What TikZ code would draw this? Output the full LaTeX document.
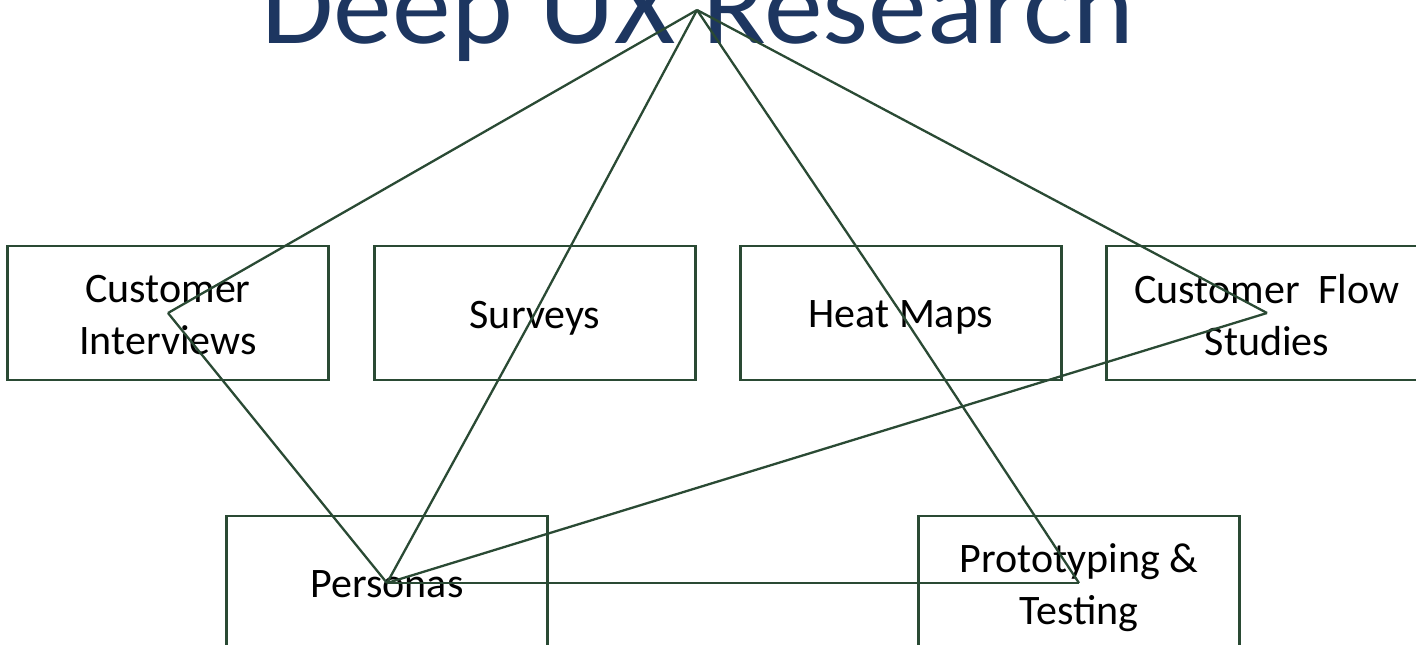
\documentclass[tikz,border=0pt]{standalone}
\usepackage{fontspec}
\newfontfamily\titlefont[FakeStretch=1.05]{Carlito}
\newfontfamily\bodyfont{Carlito}
\definecolor{titleblue}{RGB}{29,54,96}
\definecolor{linkgreen}{RGB}{42,74,52}
\begin{document}
\begin{tikzpicture}[x=1pt,y=-1pt,
  stage/.style={draw=linkgreen, line width=2.6pt, minimum width=321pt,
    minimum height=134pt, inner sep=0pt},
  lbl/.style={font=\bodyfont\fontsize{42}{52}\selectfont, align=center,
    inner sep=0pt, text depth=0pt, yshift=-1.5pt},
  link/.style={draw=linkgreen, line width=2.3pt}]
\useasboundingbox (0,0) rectangle (1416,645);

% title
\node[font=\titlefont\fontsize{112}{130}\selectfont, text=titleblue,
  anchor=base, inner sep=0pt] (title) at (698,43) {Deep UX Research};
\coordinate (apex) at (697,10);

% research methods
\node[stage] (ci) at (168,313) {};
\node[stage] (surveys) at (535,313) {};
\node[stage] (heat) at (901,313) {};
\node[stage] (cfs) at (1267,313) {};

% outcomes
\node[stage] (personas) at (387,583) {};
\node[stage] (proto) at (1079,583) {};

% labels
\node[lbl] at (ci.center) {Customer\\Interviews};
\node[lbl] at (surveys.center) {Surveys};
\node[lbl] at (heat.center) {Heat Maps};
\node[lbl] at (cfs.center) {Customer\ \ Flow\\Studies};
\node[lbl] at (personas.center) {Personas};
\node[lbl] at (proto.center) {Prototyping \&\\Testing};

% connectors
\draw[link] (apex) -- (ci.center);
\draw[link] (apex) -- (surveys.center);
\draw[link] (apex) -- (heat.center);
\draw[link] (apex) -- (cfs.center);
\draw[link] (ci.center) -- (personas.center);
\draw[link] (surveys.center) -- (personas.center);
\draw[link] (heat.center) -- (proto.center);
\draw[link] (cfs.center) -- (personas.center);
\draw[link] (personas.center) -- (proto.center);
\end{tikzpicture}
\end{document}
